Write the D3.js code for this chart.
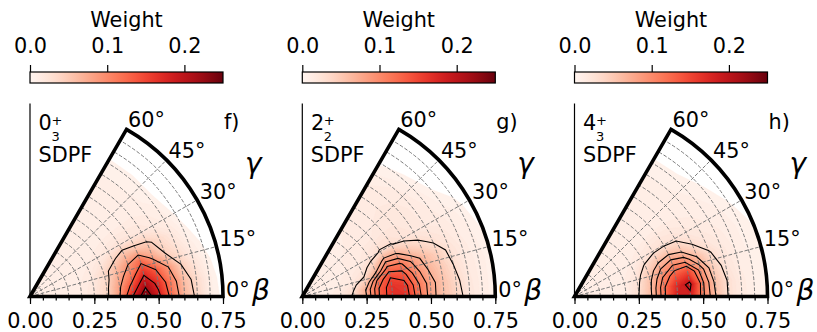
<!DOCTYPE html>
<html>
<head>
<meta charset="utf-8">
<script src="https://cdn.jsdelivr.net/npm/d3@7"></script>
<style>
  body { margin: 0; background: #fff; }
  text { font-family: "DejaVu Sans", sans-serif; }
</style>
</head>
<body>
<svg id="chart" width="817" height="332"></svg>
<script>
// grid of the weights: columns = beta, rows = gamma (degrees)
const betas = [0, 0.05, 0.1, 0.15, 0.2, 0.25, 0.3, 0.35, 0.4, 0.45, 0.5, 0.55, 0.6, 0.65, 0.7, 0.75];
const gammas = [0, 6, 12, 18, 24, 30, 40, 50, 60];

// 0+_3 SDPF
const weightsF = [
  [.008,.008,.008,.009,.012,.020,.038,.088,.176,.250,.187,.121,.066,.038,.010,.002],
  [.008,.008,.008,.009,.012,.020,.038,.083,.143,.209,.165,.110,.060,.033,.010,.000],
  [.008,.008,.008,.009,.012,.018,.033,.072,.110,.165,.132,.088,.044,.022,.006,.000],
  [.008,.008,.008,.009,.011,.015,.033,.060,.088,.121,.077,.044,.027,.011,.003,.000],
  [.008,.008,.008,.008,.010,.013,.022,.038,.060,.055,.050,.033,.018,.006,.000,.000],
  [.008,.008,.008,.008,.009,.011,.015,.020,.024,.022,.020,.015,.011,.003,.000,.000],
  [.008,.008,.008,.008,.008,.008,.009,.010,.010,.010,.010,.009,.006,.000,.000,.000],
  [.008,.008,.008,.008,.008,.008,.008,.008,.008,.008,.008,.008,.006,.000,.000,.000],
  [.008,.008,.008,.008,.008,.008,.008,.008,.008,.008,.008,.008,.006,.000,.000,.000]
];
// 2+_2 SDPF
const weightsG = [
  [.009,.009,.010,.015,.033,.070,.130,.165,.165,.120,.080,.055,.040,.020,.010,.006],
  [.009,.009,.010,.015,.030,.072,.130,.165,.160,.115,.080,.055,.035,.018,.010,.006],
  [.009,.009,.010,.013,.022,.050,.115,.150,.140,.100,.070,.050,.030,.016,.010,.006],
  [.009,.009,.010,.012,.016,.028,.070,.120,.115,.085,.060,.042,.025,.014,.009,.005],
  [.009,.009,.010,.011,.014,.020,.040,.080,.075,.050,.035,.025,.018,.012,.008,.002],
  [.009,.009,.010,.011,.012,.015,.022,.032,.031,.024,.020,.016,.014,.010,.006,.000],
  [.009,.009,.010,.011,.012,.013,.015,.016,.018,.019,.018,.015,.010,.004,.000,.000],
  [.009,.009,.010,.010,.011,.012,.013,.014,.015,.016,.015,.012,.006,.000,.000,.000],
  [.009,.009,.009,.010,.010,.011,.012,.012,.013,.013,.012,.008,.003,.000,.000,.000]
];
// 4+_3 SDPF
const weightsH = [
  [.008,.008,.008,.009,.012,.030,.060,.115,.180,.180,.105,.060,.028,.015,.008,.004],
  [.008,.008,.008,.009,.012,.028,.060,.115,.170,.200,.105,.055,.028,.014,.008,.004],
  [.008,.008,.008,.009,.011,.025,.055,.100,.135,.150,.092,.045,.022,.012,.008,.004],
  [.008,.008,.008,.009,.011,.020,.045,.078,.098,.092,.060,.032,.018,.011,.007,.004],
  [.008,.008,.008,.008,.010,.015,.032,.050,.060,.050,.030,.020,.014,.010,.007,.003],
  [.008,.008,.008,.008,.009,.012,.018,.025,.027,.024,.018,.014,.011,.009,.005,.000],
  [.008,.008,.008,.008,.008,.009,.010,.011,.012,.011,.010,.009,.008,.005,.000,.000],
  [.008,.008,.008,.008,.008,.008,.008,.009,.009,.009,.009,.008,.007,.000,.000,.000],
  [.008,.008,.008,.008,.008,.008,.008,.008,.008,.008,.008,.008,.006,.000,.000,.000]
];

const levelsF = [0.044, 0.088, 0.132, 0.176, 0.22];
const levelsG = [0.03, 0.07, 0.09, 0.11, 0.13, 0.15];
const levelsH = [0.03, 0.06, 0.08, 0.10, 0.12, 0.19];

const stateNames = ['0', '2', '4'];
const stateSubs = ['3', '2', '3'];
const modelNames = ['SDPF', 'SDPF', 'SDPF'];
const panelTags = ['f)', 'g)', 'h)'];

const betaTicks = [0, 0.25, 0.5, 0.75];
const gammaTicks = [0, 15, 30, 45, 60];
const weightTicks = [0, 0.1, 0.2];
const weightMax = 0.25;

const panelsData = [
  {weights: weightsF, levels: levelsF},
  {weights: weightsG, levels: levelsG},
  {weights: weightsH, levels: levelsH}
];

// layout
const R = 193, oy = 296.5;
const panelX = [30, 302.3, 574.5];
const fs = 20.8;

const svg = d3.select('#chart');
const r = d3.scaleLinear().domain([0, 0.75]).range([0, R]);
const cbX = d3.scaleLinear().domain([0, weightMax]).range([0, R]);
const rad = g => g * Math.PI / 180;
const polar = (b, g) => [r(b) * Math.cos(rad(g)), -r(b) * Math.sin(rad(g))];

// grid coords of d3.contours -> (beta, gamma)
const cxToBeta = d3.scaleLinear().domain([0.5, betas.length - 0.5]).range([betas[0], betas[betas.length - 1]]);
const cyToGamma = d3.scaleLinear().domain(gammas.map((g, i) => i + 0.5)).range(gammas);
const gridPath = d3.geoPath(d3.geoTransform({
  point(x, y) {
    const p = polar(Math.max(0, cxToBeta(x)), cyToGamma(y));
    this.stream.point(p[0], p[1]);
  }
}));

const fillLevels = d3.range(0.004, weightMax, 0.004);
const cmap = v => d3.interpolateReds(Math.min(1, v / weightMax));

const defs = svg.append('defs');
const grad = defs.append('linearGradient').attr('id', 'reds');
d3.range(0, 1.0001, 0.05).forEach(t => {
  grad.append('stop').attr('offset', t).attr('stop-color', d3.interpolateReds(t));
});

const wedge = d3.arc()({innerRadius: 0, outerRadius: R, startAngle: Math.PI / 6, endAngle: Math.PI / 2});

panelsData.forEach((pd, i) => {
  const ox = panelX[i];
  const flat = pd.weights.flat();
  const contours = d3.contours().size([betas.length, gammas.length]);

  // colorbar
  const cb = svg.append('g').attr('transform', `translate(${ox},72)`);
  cb.append('rect').attr('width', R).attr('height', 11).attr('fill', 'url(#reds)')
    .attr('stroke', '#000').attr('stroke-width', 1.2);
  const cbAxis = cb.append('g')
    .call(d3.axisTop(cbX).tickValues(weightTicks).tickSize(7).tickPadding(12).tickFormat(d3.format('.1f')));
  cbAxis.select('.domain').remove();
  cbAxis.attr('font-size', fs).attr('font-family', '"DejaVu Sans", sans-serif');
  cbAxis.selectAll('line').attr('stroke-width', 1.2);
  cb.append('text').attr('x', R / 2).attr('y', -45).attr('text-anchor', 'middle')
    .attr('font-size', fs).text('Weight');

  // polar panel
  const g = svg.append('g').attr('transform', `translate(${ox},${oy})`);
  defs.append('clipPath').attr('id', 'clip' + i).append('path').attr('d', wedge);
  const inner = g.append('g').attr('clip-path', `url(#clip${i})`);

  inner.append('g').selectAll('path')
    .data(contours.thresholds(fillLevels)(flat))
    .join('path')
    .attr('d', gridPath)
    .attr('fill', d => cmap(d.value + 0.002))
    .attr('stroke', d => cmap(d.value + 0.002))
    .attr('stroke-width', 0.3);

  // grid
  const grid = inner.append('g').attr('fill', 'none').attr('stroke', '#7a7a7a')
    .attr('stroke-width', 1).attr('stroke-dasharray', '3.7,1.8');
  d3.range(0.05, 0.749, 0.05).forEach(b => {
    const p = d3.path();
    p.arc(0, 0, r(b), 0, -Math.PI / 3, true);
    grid.append('path').attr('d', p.toString());
  });
  [15, 30, 45].forEach(a => {
    const e = polar(0.75, a);
    grid.append('line').attr('x1', 0).attr('y1', 0).attr('x2', e[0]).attr('y2', e[1]);
  });

  // contour lines
  inner.append('g').selectAll('path')
    .data(contours.thresholds(pd.levels)(flat))
    .join('path')
    .attr('d', gridPath)
    .attr('fill', 'none')
    .attr('stroke', '#000')
    .attr('stroke-width', 1.1)
    .attr('stroke-linejoin', 'miter');

  // left spine
  g.append('line').attr('x1', 0).attr('x2', 0).attr('y1', -R).attr('y2', 0)
    .attr('stroke', '#000').attr('stroke-width', 1.2);

  // beta axis
  const minor = g.append('g')
    .call(d3.axisBottom(r).tickValues(d3.range(0, 0.76, 0.05)).tickSize(4).tickFormat(''));
  minor.select('.domain').remove();
  minor.selectAll('line').attr('stroke-width', 1.2);
  const major = g.append('g')
    .call(d3.axisBottom(r).tickValues(betaTicks).tickSize(7.5).tickPadding(9.5).tickFormat(d3.format('.2f')));
  major.select('.domain').remove();
  major.attr('font-size', fs).attr('font-family', '"DejaVu Sans", sans-serif');
  major.selectAll('line').attr('stroke-width', 1.2);

  // outline of the wedge
  const tip = polar(0.75, 60), end = polar(0.75, 0);
  const o = d3.path();
  o.moveTo(0, 0);
  o.lineTo(tip[0], tip[1]);
  o.arc(0, 0, R, -Math.PI / 3, 0, false);
  o.lineTo(end[0], end[1]);
  o.closePath();
  g.append('path').attr('d', o.toString()).attr('fill', 'none')
    .attr('stroke', '#000').attr('stroke-width', 3.6).attr('stroke-linejoin', 'miter');

  // gamma tick labels
  gammaTicks.forEach(a => {
    const p = [(R + 3) * Math.cos(rad(a)), -(R + 3) * Math.sin(rad(a))];
    g.append('text').attr('x', p[0]).attr('y', p[1]).attr('font-size', fs).text(a + '\u00b0');
  });

  g.append('text').attr('x', 215).attr('y', 173 - oy).attr('font-size', 28)
    .attr('font-style', 'italic').text('\u03b3');
  g.append('text').attr('x', 222).attr('y', 3).attr('font-size', 28)
    .attr('font-style', 'italic').text('\u03b2');

  // state label: big digit, superscript + and subscript index stacked
  g.append('text').attr('x', 8.6).attr('y', 130 - oy).attr('font-size', fs).text(stateNames[i]);
  g.append('text').attr('x', 21.5).attr('y', 124.5 - oy).attr('font-size', 13).text('+');
  g.append('text').attr('x', 21.5).attr('y', 140.5 - oy).attr('font-size', 13).text(stateSubs[i]);
  g.append('text').attr('x', 8.5).attr('y', 161.5 - oy).attr('font-size', fs).text(modelNames[i]);
  g.append('text').attr('x', 194).attr('y', 129 - oy).attr('font-size', fs).text(panelTags[i]);
});
</script>
</body>
</html>
